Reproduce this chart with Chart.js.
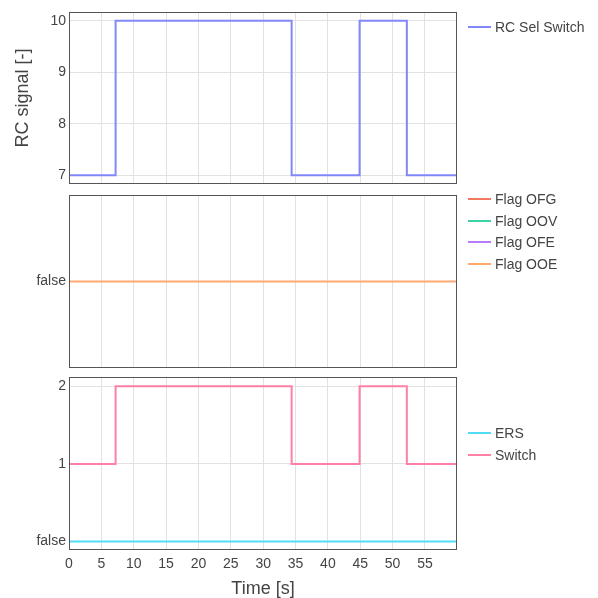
<!DOCTYPE html>
<html>
<head>
<meta charset="utf-8">
<script src="https://cdn.jsdelivr.net/npm/chart.js@4"></script>
<style>
  body { margin: 0; background: #fff; font-family: "Liberation Sans", Arial, sans-serif; }
  #wrap { position: relative; width: 598px; height: 598px; }
  .panel { position: absolute; left: 0; width: 598px; }
  .legend { position: absolute; left: 468px; font-size: 14px; color: #444; }
  .legend div { height: 21.5px; line-height: 21.5px; white-space: nowrap; }
  .legend span { display: inline-block; width: 23px; height: 2px; vertical-align: middle; margin-right: 4px; position: relative; top: -1px; }
</style>
</head>
<body>
<div id="wrap">
  <div class="panel" style="top:0;height:190px"><canvas id="c1"></canvas></div>
  <div class="panel" style="top:190px;height:184px"><canvas id="c2"></canvas></div>
  <div class="panel" style="top:374px;height:224px"><canvas id="c3"></canvas></div>
  <div class="legend" id="leg1" style="top:17px"></div>
  <div class="legend" id="leg2" style="top:189px"></div>
  <div class="legend" id="leg3" style="top:423px"></div>
</div>
<script>
// data
const timeS       = [0, 7.2, 34.4, 44.9, 52.2, 59.95];
const rcSelSwitch = [7, 10, 7, 10, 7, 7];
const switchVals  = [1, 2, 1, 2, 1, 1];
const flagTime    = [0, 59.95];
const flagOFG     = [0, 0];
const flagOOV     = [0, 0];
const flagOFE     = [0, 0];
const flagOOE     = [0, 0];
const ersVals     = [0, 0];
const xTicks      = [0, 5, 10, 15, 20, 25, 30, 35, 40, 45, 50, 55];

const TXT = "#444";
const GRID = "#e2e2e2";
const FONT = "'Liberation Sans', Arial, sans-serif";
const C = {
  rc: "rgb(128,136,250)", ofg: "rgb(242,120,98)", oov: "rgb(60,210,165)",
  ofe: "rgb(182,124,250)", ooe: "rgb(255,168,112)", ers: "rgb(80,220,245)", sw: "rgb(255,128,164)"
};

const pts = (xs, ys) => xs.map((x, i) => ({ x, y: ys[i] }));

const frame = {
  id: "frame",
  afterDraw(chart){
    const { ctx, chartArea: a } = chart;
    ctx.save();
    ctx.strokeStyle = "#555";
    ctx.lineWidth = 1;
    ctx.strokeRect(a.left + 0.5, a.top + 0.5, a.right - a.left - 1, a.bottom - a.top - 1);
    ctx.restore();
  }
};

function line(label, xs, ys, color, order, width){
  return { label, data: pts(xs, ys), borderColor: color, borderWidth: width || 2,
           pointRadius: 0, stepped: true, order: order || 0 };
}

function makeChart(id, datasets, y, x, pad){
  return new Chart(document.getElementById(id), {
    type: "line",
    data: { datasets },
    options: {
      responsive: true, maintainAspectRatio: false, animation: false,
      layout: { padding: pad },
      plugins: { legend: { display: false }, tooltip: { enabled: false } },
      scales: {
        x: Object.assign({
          type: "linear", min: 0, max: 59.95,
          afterBuildTicks: s => { s.ticks = xTicks.map(v => ({ value: v })); },
          grid: { color: GRID, drawTicks: false },
          border: { display: false }
        }, x),
        y: Object.assign({
          type: "linear",
          afterFit: s => { s.width = 69; s.paddingTop = 0; s.paddingBottom = 0; },
          grid: { color: GRID, drawTicks: false },
          border: { display: false }
        }, y)
      }
    },
    plugins: [frame]
  });
}

const tickFont = { family: FONT, size: 14 };
const hiddenX = { ticks: { display: false },
                  afterFit: s => { s.height = 0; s.paddingLeft = 0; s.paddingRight = 0; } };

makeChart("c1",
  [line("RC Sel Switch", timeS, rcSelSwitch, C.rc)],
  { min: 6.83, max: 10.17,
    afterBuildTicks: s => { s.ticks = [7, 8, 9, 10].map(v => ({ value: v })); },
    ticks: { color: TXT, font: tickFont, padding: 3 },
    title: { display: true, text: "RC signal [-]", color: TXT,
             font: { family: FONT, size: 18 }, padding: { top: 12, bottom: 10 } } },
  hiddenX, { top: 12, bottom: 6, left: 0, right: 141 });

// the four flags overlap; OOE is drawn last and covers the others
makeChart("c2",
  [line("Flag OFG", flagTime, flagOFG, C.ofg, 4, 1.2),
   line("Flag OOV", flagTime, flagOOV, C.oov, 3, 1.2),
   line("Flag OFE", flagTime, flagOFE, C.ofe, 2, 1.2),
   line("Flag OOE", flagTime, flagOOE, C.ooe, 1, 2)],
  { min: -1, max: 1,
    afterBuildTicks: s => { s.ticks = [{ value: 0 }]; },
    ticks: { color: TXT, font: tickFont, padding: 3, callback: () => "false" } },
  hiddenX, { top: 5, bottom: 6, left: 0, right: 141 });

makeChart("c3",
  [line("ERS", flagTime, ersVals, C.ers),
   line("Switch", timeS, switchVals, C.sw)],
  { min: -0.11, max: 2.12,
    afterBuildTicks: s => { s.ticks = [0, 1, 2].map(v => ({ value: v })); },
    ticks: { color: TXT, font: tickFont, padding: 3, callback: v => v === 0 ? "false" : v } },
  { ticks: { color: TXT, font: tickFont, padding: 6, maxRotation: 0 },
    afterFit: s => { s.height = 48; s.paddingLeft = 0; s.paddingRight = 0; },
    title: { display: true, text: "Time [s]", color: TXT,
             font: { family: FONT, size: 18 }, padding: { top: 0, bottom: -2 } } },
  { top: 3, bottom: 0, left: 0, right: 141 });

// html legends
function legend(id, items){
  document.getElementById(id).innerHTML = items.map(([t, c]) =>
    `<div><span style="background:${c}"></span>${t}</div>`).join("");
}
legend("leg1", [["RC Sel Switch", C.rc]]);
legend("leg2", [["Flag OFG", C.ofg], ["Flag OOV", C.oov], ["Flag OFE", C.ofe], ["Flag OOE", C.ooe]]);
legend("leg3", [["ERS", C.ers], ["Switch", C.sw]]);
</script>
</body>
</html>
